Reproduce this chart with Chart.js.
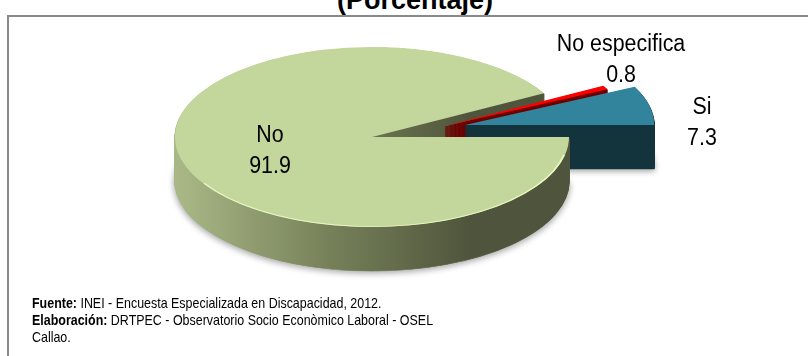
<!DOCTYPE html>
<html>
<head>
<meta charset="utf-8">
<script src="https://cdn.jsdelivr.net/npm/chart.js@4"></script>
<style>
    html, body { margin: 0; padding: 0; background: #fff; }
    body { width: 808px; height: 356px; position: relative; overflow: hidden; font-family: "Liberation Sans", Arial, sans-serif; color: #000; }
    #frame { position: absolute; left: 7px; top: 15px; width: 900px; height: 400px; border: 2px solid #898989; box-sizing: border-box; }
    #title { position: absolute; left: 0; width: 830px; top: -13px; line-height: 27px; text-align: center; font-weight: bold; font-size: 27px; }
    #chart { position: absolute; left: 0; top: 0; }
    .note { position: absolute; left: 32px; font-size: 15px; line-height: 15px; transform: scaleX(0.83); transform-origin: 0 0; white-space: nowrap; }
</style>
</head>
<body>
<div id="frame"></div>
<div id="title">(Porcentaje)</div>
<canvas id="chart" width="808" height="356"></canvas>
<div class="note" style="top:295px"><b>Fuente:</b> INEI - Encuesta Especializada en Discapacidad, 2012.</div>
<div class="note" style="top:312px"><b>Elaboración:</b> DRTPEC - Observatorio Socio Econòmico Laboral - OSEL</div>
<div class="note" style="top:329px">Callao.</div>
<script>
const labels = ['No', 'No especifica', 'Si'];
const values = [91.9, 0.8, 7.3];
const topColors = ['#c3d69b', '#ff0000', '#31849b'];
const sideColors = [null, '#6e0000', '#15343f'];

// fake 3D: squash the pie, stack darker copies underneath, then draw the tops
const pie3d = {
    id: 'pie3d',
    beforeDatasetsDraw(chart, args, opts) {
        const ctx = chart.ctx;
        const arcs = chart.getDatasetMeta(0).data;

        const grad = ctx.createLinearGradient(180, 0, 470, 0);
        grad.addColorStop(0, '#a9b786');
        grad.addColorStop(0.5, '#77825a');
        grad.addColorStop(1, '#4f553c');

        const drawArc = (arc, i, dy, fill, edge) => {
            const sh = opts.shift[i];
            const s = opts.scale[i];
            ctx.save();
            ctx.translate(arc.x + sh[0], arc.y + sh[1] + dy);
            ctx.scale(s, opts.tilt * s);
            ctx.translate(-arc.x, -arc.y);
            const el = Object.create(arc);
            el.options = Object.assign({}, arc.options, {
                backgroundColor: fill,
                borderColor: fill,
                borderWidth: edge
            });
            el.draw(ctx);
            ctx.restore();
        };

        for (let d = opts.depth; d >= 1; d--) {
            arcs.forEach((arc, i) => {
                ctx.save();
                if (d === opts.depth) {
                    ctx.shadowColor = 'rgba(0,0,0,0.35)';
                    ctx.shadowBlur = 6;
                    ctx.shadowOffsetY = 2;
                }
                drawArc(arc, i, d, sideColors[i] || grad, 1.5);
                ctx.restore();
            });
        }

        arcs.forEach((arc, i) => drawArc(arc, i, 0, arc.options.backgroundColor, 0));

        // light rim on the front edge of the big slice
        const a = arcs[0];
        ctx.save();
        ctx.translate(a.x, a.y);
        ctx.scale(1, opts.tilt);
        ctx.beginPath();
        ctx.arc(0, 0, a.outerRadius - 1, 0.2, 2.6);
        ctx.strokeStyle = 'rgba(235,250,195,0.9)';
        ctx.lineWidth = 2;
        ctx.stroke();
        ctx.restore();

        // labels
        ctx.fillStyle = '#000';
        ctx.font = '23px "Liberation Sans", Arial, sans-serif';
        ctx.textAlign = 'center';
        ctx.textBaseline = 'alphabetic';
        arcs.forEach((arc, i) => {
            const sh = opts.shift[i];
            const off = opts.labelOffset[i];
            const r = arc.outerRadius * opts.scale[i];
            const mid = (arc.startAngle + arc.endAngle) / 2;
            const x = arc.x + sh[0] + Math.cos(mid) * r + off[0];
            const y = arc.y + sh[1] + Math.sin(mid) * r * opts.tilt + off[1];
            [chart.data.labels[i], values[i].toFixed(1)].forEach((t, j) => {
                ctx.save();
                ctx.translate(x, y - 7.25 + j * 31);
                ctx.scale(0.93, 1);
                ctx.fillText(t, 0, 0);
                ctx.restore();
            });
        });
        return false;
    }
};

new Chart(document.getElementById('chart'), {
    type: 'pie',
    data: {
        labels: labels,
        datasets: [{
            data: values,
            backgroundColor: topColors,
            borderWidth: 0
        }]
    },
    options: {
        responsive: false,
        animation: false,
        events: [],
        rotation: 90,
        radius: 197,
        layout: { padding: { left: 0, right: 64, top: 0, bottom: 82 } },
        plugins: {
            legend: { display: false },
            tooltip: { enabled: false },
            pie3d: {
                tilt: 0.457,
                depth: 44,
                shift: [[0, 0], [73, -11], [93, -12]],
                scale: [1, 0.92, 0.96],
                labelOffset: [[88.7, -10.2], [15.6, -29], [52.8, 15.7]]
            }
        }
    },
    plugins: [pie3d]
});
</script>
</body>
</html>
